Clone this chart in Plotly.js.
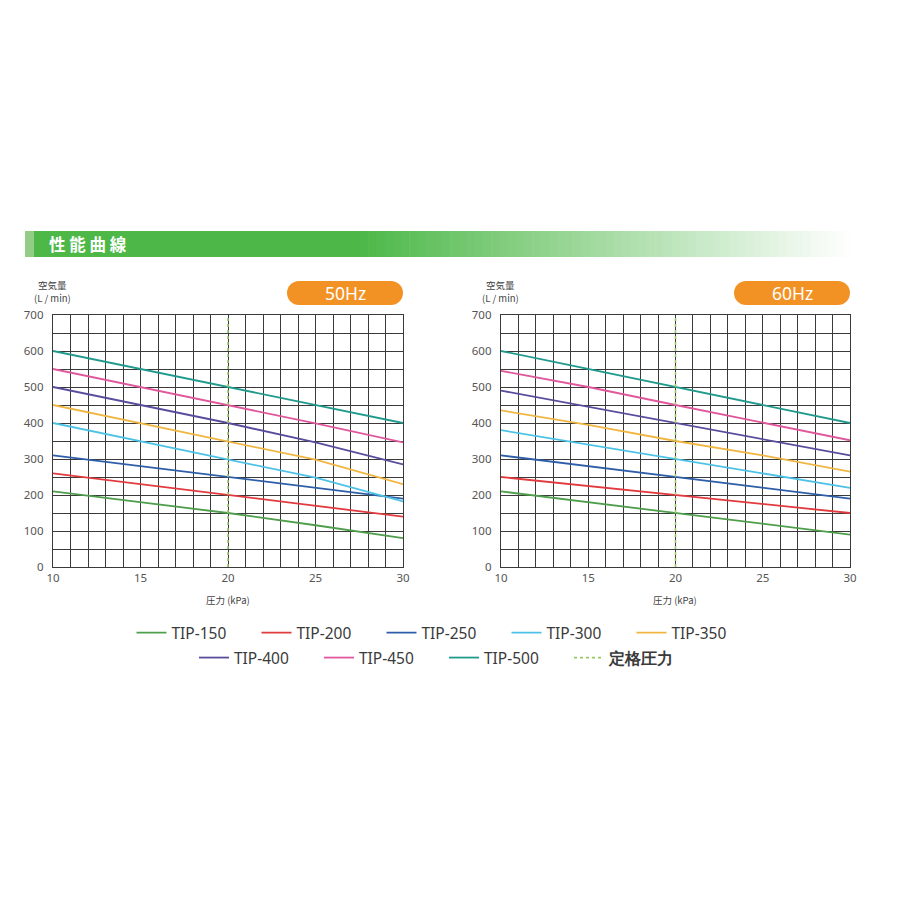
<!DOCTYPE html>
<html>
<head>
<meta charset="utf-8">
<script src="https://cdn.plot.ly/plotly-3.0.1.min.js"></script>
<style>html,body{margin:0;padding:0;background:#fff;}#chart{width:900px;height:900px;}</style>
</head>
<body>
<div id="chart"></div>
<script>
// ---- data ----
const pressure = [10, 15, 20, 25, 30];
const models = ['TIP-150', 'TIP-200', 'TIP-250', 'TIP-300', 'TIP-350', 'TIP-400', 'TIP-450', 'TIP-500'];
const colors = ['#4f9e4c', '#e23b3f', '#2e5ea8', '#4cc2e6', '#f0b642', '#5b4b9c', '#e0579c', '#1f9a8c'];

const tip150_50 = [210, 180, 150, 116, 80];
const tip200_50 = [260, 230, 200, 172, 140];
const tip250_50 = [310, 280, 250, 220, 190];
const tip300_50 = [400, 350, 300, 248, 182];
const tip350_50 = [450, 400, 350, 298, 230];
const tip400_50 = [500, 450, 400, 346, 285];
const tip450_50 = [550, 500, 450, 399, 346];
const tip500_50 = [600, 550, 500, 450, 400];

const tip150_60 = [210, 180, 150, 120, 90];
const tip200_60 = [250, 225, 200, 175, 150];
const tip250_60 = [310, 280, 250, 220, 190];
const tip300_60 = [380, 340, 300, 260, 220];
const tip350_60 = [435, 395, 350, 310, 265];
const tip400_60 = [490, 445, 400, 355, 310];
const tip450_60 = [545, 500, 450, 400, 352];
const tip500_60 = [600, 550, 500, 450, 400];

const ratedPressure = 20;
const ratedLabel = '定格圧力';
const flowRange = [0, 700];
const pressureRange = [10, 30];
const panelLabels = ['50Hz', '60Hz'];
const headerTitle = '性能曲線';
const yTitleTop = '空気量';
const yTitleUnit = '(L / min)';
const xTitle = '圧力 (kPa)';

const series50 = [tip150_50, tip200_50, tip250_50, tip300_50, tip350_50, tip400_50, tip450_50, tip500_50];
const series60 = [tip150_60, tip200_60, tip250_60, tip300_60, tip350_60, tip400_60, tip450_60, tip500_60];

// ---- traces ----
const traces = [];
function addPanel(series, xa, ya, showLeg) {
  series.forEach((vals, i) => {
    traces.push({
      x: pressure, y: vals, type: 'scatter', mode: 'lines', name: models[i],
      xaxis: xa, yaxis: ya, line: {color: colors[i], width: 1.8},
      showlegend: showLeg, legend: i < 5 ? 'legend' : 'legend2', hoverinfo: 'skip'
    });
  });
  traces.push({
    x: [ratedPressure, ratedPressure], y: flowRange, type: 'scatter', mode: 'lines',
    name: '<b>' + ratedLabel + '</b>', xaxis: xa, yaxis: ya,
    line: {color: '#98c865', width: 1.6, dash: 'dot'},
    showlegend: showLeg, legend: 'legend2', hoverinfo: 'skip'
  });
}
addPanel(series50, 'x', 'y', true);
addPanel(series60, 'x2', 'y2', false);

// ---- layout helpers ----
const W = 900, H = 900;
const px = v => v / W;
const py = v => 1 - v / H;
const gridC = '#3a3a3a';
const tickFont = {family: 'Noto Sans, sans-serif', size: 11.5, color: '#555'};

function xAxis(d0, d1, anchor) {
  return {
    domain: [px(d0), px(d1)], range: pressureRange, anchor: anchor,
    tick0: 10, dtick: 5, showgrid: true, gridcolor: gridC, gridwidth: 1,
    minor: {dtick: 1, showgrid: true, gridcolor: gridC, gridwidth: 1},
    showline: true, mirror: true, linecolor: gridC, linewidth: 1.2,
    zeroline: false, ticks: '', tickfont: tickFont, fixedrange: true
  };
}
function yAxis(anchor) {
  return {
    domain: [py(567), py(315)], range: flowRange, anchor: anchor,
    tick0: 0, dtick: 100, showgrid: true, gridcolor: gridC, gridwidth: 1,
    minor: {dtick: 50, showgrid: true, gridcolor: gridC, gridwidth: 1},
    showline: true, mirror: true, linecolor: gridC, linewidth: 1.2,
    zeroline: false, ticks: '', tickfont: tickFont, ticklabelstandoff: 6, fixedrange: true
  };
}

const shapes = [];
// header bar
shapes.push({type: 'rect', xref: 'paper', yref: 'paper', x0: px(25), x1: px(34), y0: py(257), y1: py(231),
  fillcolor: '#93cc85', line: {width: 0}, layer: 'below'});
shapes.push({type: 'rect', xref: 'paper', yref: 'paper', x0: px(34), x1: px(362), y0: py(257), y1: py(231),
  fillcolor: '#4db848', line: {width: 0}, layer: 'below'});
const g0 = 360, g1 = 852, steps = 60;
const c0 = [77, 184, 72], c1 = [255, 255, 255];
for (let k = 0; k < steps; k++) {
  const t = (k + 0.5) / steps;
  const c = c0.map((v, j) => Math.round(v + (c1[j] - v) * t));
  const a = g0 + (g1 - g0) * k / steps, b = g0 + (g1 - g0) * (k + 1) / steps + 0.6;
  shapes.push({type: 'rect', xref: 'paper', yref: 'paper', x0: px(a), x1: px(b), y0: py(257), y1: py(231),
    fillcolor: 'rgb(' + c.join(',') + ')', line: {width: 0}, layer: 'below'});
}
// orange pills
const orange = '#f39224';
function pill(x0, x1, y0, y1) {
  const r = (y1 - y0) / 2;
  shapes.push({type: 'rect', xref: 'paper', yref: 'paper', x0: px(x0 + r), x1: px(x1 - r), y0: py(y1), y1: py(y0),
    fillcolor: orange, line: {width: 0}});
  shapes.push({type: 'circle', xref: 'paper', yref: 'paper', x0: px(x0), x1: px(x0 + 2 * r), y0: py(y1), y1: py(y0),
    fillcolor: orange, line: {width: 0}});
  shapes.push({type: 'circle', xref: 'paper', yref: 'paper', x0: px(x1 - 2 * r), x1: px(x1), y0: py(y1), y1: py(y0),
    fillcolor: orange, line: {width: 0}});
}
pill(287, 403, 281, 305);
pill(734, 850, 281, 305);

const annFont = {family: 'Noto Sans CJK JP, Noto Sans, sans-serif', size: 9.5, color: '#444'};
function ann(text, x, y, font, xanchor) {
  return {text: text, xref: 'paper', yref: 'paper', x: px(x), y: py(y), xanchor: xanchor || 'center',
    yanchor: 'middle', showarrow: false, font: font};
}
const pillFont = {family: 'Noto Sans, sans-serif', size: 17.5, color: '#ffffff'};
const annotations = [
  ann('<b>' + headerTitle.split('').join(' ') + '</b>', 47, 244,
    {family: 'Noto Sans CJK JP, sans-serif', size: 16.5, color: '#ffffff'}, 'left'),
  ann(panelLabels[0], 345, 293, pillFont),
  ann(panelLabels[1], 792, 293, pillFont),
  ann(yTitleTop, 52, 285, annFont),
  ann(yTitleUnit, 52, 298, annFont),
  ann(yTitleTop, 500, 285, annFont),
  ann(yTitleUnit, 500, 298, annFont),
  ann(xTitle, 228, 600, annFont),
  ann(xTitle, 675, 600, annFont)
];

const legFont = {family: 'Noto Sans, sans-serif', size: 15.5, color: '#3a3a3a'};
const layout = {
  width: W, height: H, margin: {l: 0, r: 0, t: 0, b: 0},
  paper_bgcolor: '#ffffff', plot_bgcolor: '#ffffff',
  xaxis: xAxis(53, 403, 'y'), yaxis: yAxis('x'),
  xaxis2: xAxis(501, 850, 'y2'), yaxis2: yAxis('x2'),
  shapes: shapes, annotations: annotations,
  legend: {orientation: 'h', x: px(444), xanchor: 'center', y: py(633), yanchor: 'middle',
    entrywidth: 80, entrywidthmode: 'pixels', font: legFont, bgcolor: 'rgba(0,0,0,0)'},
  legend2: {orientation: 'h', x: px(444), xanchor: 'center', y: py(658), yanchor: 'middle',
    entrywidth: 80, entrywidthmode: 'pixels', font: legFont, bgcolor: 'rgba(0,0,0,0)'}
};

Plotly.newPlot('chart', traces, layout, {staticPlot: true, displayModeBar: false});
</script>
</body>
</html>
